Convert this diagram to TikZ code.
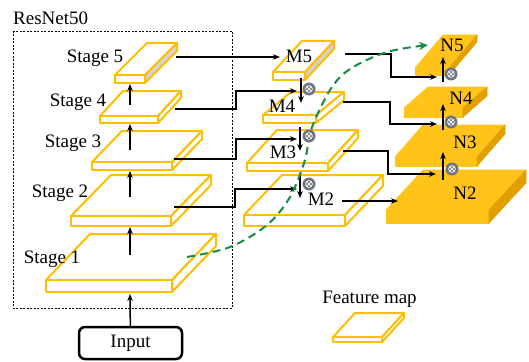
\documentclass[tikz,border=0pt]{standalone}
\usepackage{fontspec}
\setmainfont{Liberation Serif}
\usetikzlibrary{arrows.meta, calc}
\definecolor{fmline}{RGB}{255,190,0}
\definecolor{ntop}{RGB}{255,195,25}
\definecolor{nside}{RGB}{226,160,0}
\definecolor{dgreen}{RGB}{20,140,70}
\definecolor{mulgrey}{RGB}{112,118,128}
% slab: face style, side style, x, y, width, dx, dy, thickness
\newcommand{\fmap}[8]{%
  \draw[#1] (#3,#4) -- ++(#5,0) -- ++(#6,-#7) -- ++(-#5,0) -- cycle;
  \draw[#1] (#3,#4) rectangle ++(#5,#8);
  \draw[#2] (#3+#5,#4) -- ++(#6,-#7) -- ++(0,#8) -- ++(-#6,#7) -- cycle;
}

\begin{document}
\begin{tikzpicture}[x=1pt, y=-1pt, font=\fontsize{19}{22}\selectfont,
    fm/.style={draw=fmline, line width=2, fill=white, line join=round},
    fmg/.style={fm, fill=gray!35},
    nf/.style={draw=ntop, fill=ntop, line width=0.6, line join=round},
    ns/.style={draw=nside, fill=nside, line width=0.6, line join=round},
    arr/.style={line width=1.5, -{Stealth[length=7pt, width=5.5pt]}},
    lbl/.style={anchor=base, inner sep=0},
    otim/.style={circle, fill=mulgrey, minimum size=13, inner sep=0,
      path picture={\draw[white!85!gray, line width=0.8] (path picture bounding box.center) circle[radius=3.4pt]
        +(-2.4pt,-2.4pt) -- +(2.4pt,2.4pt) +(-2.4pt,2.4pt) -- +(2.4pt,-2.4pt);}}]
  \useasboundingbox (0,0) rectangle (529,361);

  % backbone
  \draw[line width=0.6, dash pattern=on 2pt off 1.5pt] (13,31) rectangle (232,308);
  \node[lbl, anchor=base west] (resnet) at (13,25) {ResNet50};
  \node[draw, line width=2.5, rounded corners=6, minimum width=103, minimum height=32, inner sep=0] (input) at (130.5,343) {Input};

  \fmap{fm}{fm}{46}{280}{126}{44}{46}{12}
  \fmap{fm}{fm}{71}{216}{100}{40}{41}{10}
  \fmap{fm}{fm}{92}{162}{80}{30}{31}{8}
  \fmap{fm}{fm}{100}{116}{58}{23}{25}{7}
  \fmap{fm}{fmg}{115}{75}{30}{32}{32}{8}

  \node[lbl] (st1) at (52,263) {Stage 1};
  \node[lbl] (st2) at (60,197) {Stage 2};
  \node[lbl] (st3) at (73,147) {Stage 3};
  \node[lbl] (st4) at (78,106) {Stage 4};
  \node[lbl] (st5) at (95,63) {Stage 5};

  % top-down column
  \fmap{fm}{fm}{244}{215}{101}{38}{40}{11}
  \fmap{fm}{fm}{247}{163}{81}{30}{33}{8}
  \fmap{fm}{fm}{263}{115}{53}{28}{23}{8}
  \fmap{fm}{fmg}{273}{72}{32}{29}{31}{8}

  % output column
  \fmap{nf}{ns}{386}{210}{103}{37}{40}{13}
  \fmap{nf}{ns}{395}{157}{82}{28}{32}{9}
  \fmap{nf}{ns}{404}{108}{59}{24}{21}{9}
  \fmap{nf}{ns}{415}{68}{34}{28}{33}{7}

  % legend
  \fmap{fm}{fm}{333}{337}{49}{22}{24}{5}
  \node[lbl] (fmlabel) at (369.5,303) {Feature map};

  % connector ends
  \coordinate (s1b) at (130,294);
  \coordinate (s1c) at (130,255); \coordinate (s2b) at (130,227);
  \coordinate (s2c) at (130,197); \coordinate (s3b) at (130,171);
  \coordinate (s3c) at (130,150); \coordinate (s4b) at (130,124);
  \coordinate (s4c) at (130,105); \coordinate (s5b) at (130,84);
  \coordinate (s5r) at (176,57);  \coordinate (m5l) at (280,57);
  \coordinate (s4r) at (175,109); \coordinate (m4l) at (297,91);
  \coordinate (s3r) at (174,159); \coordinate (m3l) at (297,139);
  \coordinate (s2r) at (174,207); \coordinate (m2l) at (297,189);
  \coordinate (m5b) at (301,78);  \coordinate (m4t) at (301,103);
  \coordinate (m4b) at (300,127); \coordinate (m3t) at (300,151);
  \coordinate (m3b) at (300,173); \coordinate (m2t) at (300,198);
  \coordinate (m5r) at (345,54);  \coordinate (n5l) at (437,77);
  \coordinate (m4r) at (343,102); \coordinate (n4l) at (437,124);
  \coordinate (m3r) at (343,151); \coordinate (n3l) at (436,174);
  \coordinate (m2r) at (342,201); \coordinate (n2l) at (398,201);
  \coordinate (n4t) at (443,82);  \coordinate (n5b) at (443,57);
  \coordinate (n3t) at (443,130); \coordinate (n4b) at (443,104);
  \coordinate (n2t) at (443,180); \coordinate (n3b) at (443,152);
  \coordinate (s1g) at (187,257); \coordinate (n5g) at (428,45);

  \draw[arr] (input) -- (s1b);
  \draw[arr] (s1c) -- (s2b);
  \draw[arr] (s2c) -- (s3b);
  \draw[arr] (s3c) -- (s4b);
  \draw[arr] (s4c) -- (s5b);

  \draw[arr] (s5r) -- (m5l);
  \draw[arr] (s4r) -- ++(61,0) |- (m4l);
  \draw[arr] (s3r) -- ++(62,0) |- (m3l);
  \draw[arr] (s2r) -- ++(61,0) |- (m2l);

  \draw[arr] (m5b) -- (m4t);
  \draw[arr] (m4b) -- (m3t);
  \draw[arr] (m3b) -- (m2t);

  \draw[arr] (m5r) -- ++(46,0) |- (n5l);
  \draw[arr] (m4r) -- ++(47,0) |- (n4l);
  \draw[arr] (m3r) -- ++(45,0) |- (n3l);
  \draw[arr] (m2r) -- (n2l);

  \draw[arr] (n4t) -- (n5b);
  \draw[arr] (n3t) -- (n4b);
  \draw[arr] (n2t) -- (n3b);

  \draw[dgreen, line width=2, dash pattern=on 8pt off 5pt, -{Stealth[length=9pt, width=8pt]}]
    plot[smooth, tension=0.55] coordinates {(s1g) (230,247) (267,225) (290,197) (305,160)
      (311,130) (330,90) (350,69) (387,52) (n5g)};

  \node[otim] (x4) at (309,89) {};
  \node[otim] (x3) at (309,136) {};
  \node[otim] (x2) at (309,184) {};
  \node[otim] (y5) at (451,74) {};
  \node[otim] (y4) at (451,122) {};
  \node[otim] (y3) at (452,169) {};

  \node[lbl] (m5) at (299,63) {M5};
  \node[lbl] (m4) at (282,112) {M4};
  \node[lbl] (m3) at (283,158) {M3};
  \node[lbl] (m2) at (321,205) {M2};
  \node[lbl] (n5) at (452,52) {N5};
  \node[lbl] (n4) at (461,104) {N4};
  \node[lbl] (n3) at (465,148) {N3};
  \node[lbl] (n2) at (465,199) {N2};
\end{tikzpicture}
\end{document}
